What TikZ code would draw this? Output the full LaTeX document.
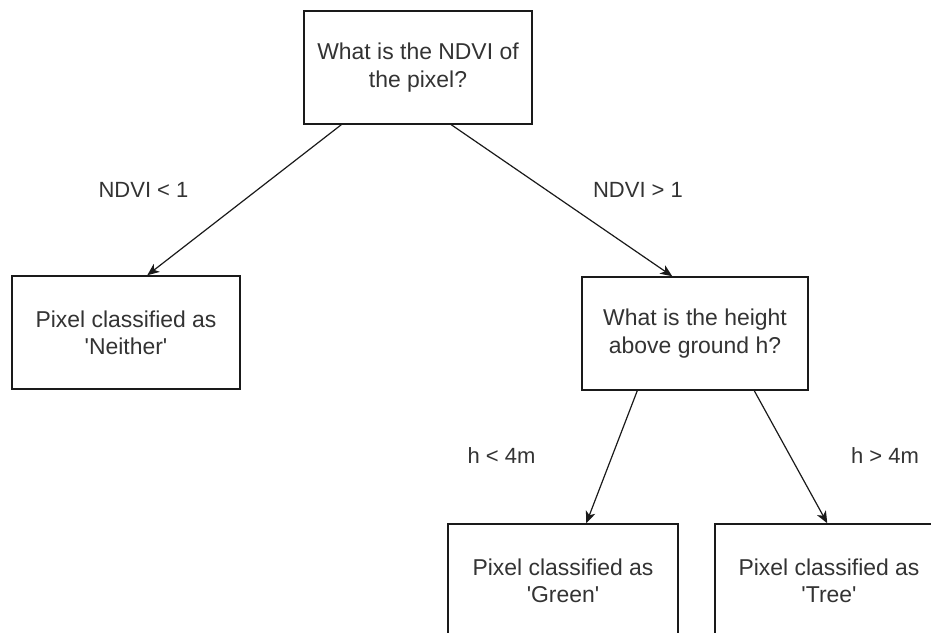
\documentclass[tikz,border=0pt]{standalone}
\usepackage{fontspec}
\setmainfont{Liberation Sans}[Ligatures=TeXOff]
\usetikzlibrary{arrows.meta}
\definecolor{txt}{HTML}{333333}
\definecolor{ln}{HTML}{1A1A1A}
\tikzset{
  box/.style={draw=ln, line width=1.1pt, fill=white, align=center, text=txt,
    font=\fontsize{17.2pt}{20.5pt}\selectfont, inner sep=0pt,
    minimum width=171pt, minimum height=84.75pt},
  lab/.style={text=txt, font=\fontsize{16.5pt}{19pt}\selectfont, inner sep=0pt},
  arr/.style={draw=ln, line width=0.9pt, -{Stealth[length=9pt,width=7.5pt,inset=2.5pt]}}
}
\begin{document}
\begin{tikzpicture}[x=0.75pt,y=-0.75pt]
\useasboundingbox (0,0) rectangle (931,632);
\clip (0,0) rectangle (931,632);
\node[box] (top) at (418,67.5) {What is the NDVI of\\the pixel?};
\node[box] (left) at (126,332.5) {Pixel classified as\\'Neither'};
\node[box, minimum width=169.5pt] (mid) at (695,333.5) {What is the height\\above ground h?};
\node[box, minimum width=172.5pt] (green) at (563,580.5) {Pixel classified as\\'Green'};
\node[box] (tree) at (829,580.5) {Pixel classified as\\'Tree'};
\draw[arr] ([xshift=28.5pt]top.south west) -- ([xshift=102pt]left.north west);
\draw[arr] ([xshift=111pt]top.south west) -- ([xshift=68.25pt]mid.north west);
\draw[arr] ([xshift=42pt]mid.south west) -- ([xshift=104.25pt]green.north west);
\draw[arr] ([xshift=129.75pt]mid.south west) -- ([xshift=84.75pt]tree.north west);
\node[lab] (l1) at (143.5,190) {NDVI < 1};
\node[lab] (l2) at (638,190) {NDVI > 1};
\node[lab] (l3) at (501.5,456) {h < 4m};
\node[lab] (l4) at (885,456) {h > 4m};
\end{tikzpicture}
\end{document}
